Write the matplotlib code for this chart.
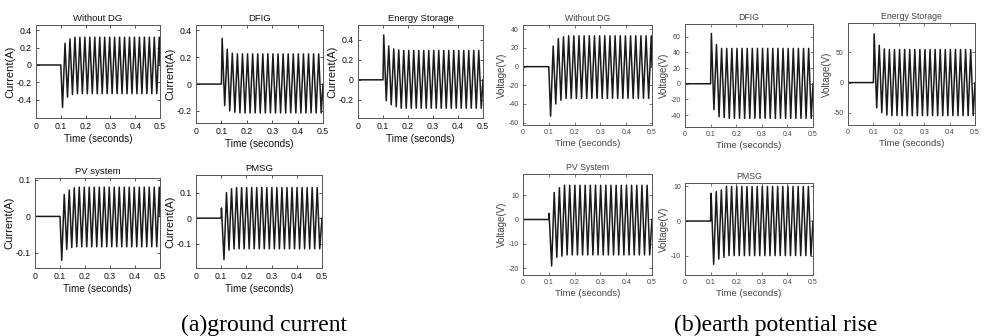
import numpy as np
from matplotlib import pyplot as plt
from matplotlib.ticker import FormatStrFormatter

plt.rcParams['font.family'] = ['Liberation Sans', 'DejaVu Sans']

# peak values: first swings after the fault, then steady +/- amplitude
titles_a = ["Without DG", "DFIG", "Energy Storage", "PV system", "PMSG"]
first_peak_time_a = [0.107, 0.103, 0.103, 0.107, 0.101]
early_peaks_a = [
    [-0.49, 0.25, -0.37, 0.30, -0.34, 0.32],
    [0.34, -0.16, 0.26, -0.20, 0.23, -0.21],
    [0.45, -0.21, 0.34, -0.25, 0.31, -0.27, 0.30],
    [-0.12, 0.06, -0.09, 0.072, -0.085, 0.078],
    [0.04, -0.162, 0.10, -0.125, 0.115, -0.12],
]
steady_a = [(0.32, -0.33), (0.225, -0.215), (0.295, -0.285), (0.08, -0.083), (0.12, -0.12)]
yticks_a = [[-0.4, -0.2, 0, 0.2, 0.4], [-0.2, 0, 0.2, 0.4], [-0.2, 0, 0.2, 0.4],
            [-0.1, 0, 0.1], [-0.1, 0, 0.1]]
ylims_a = [(-0.61, 0.46), (-0.29, 0.44), (-0.383, 0.55), (-0.141, 0.105), (-0.195, 0.169)]

titles_b = ["Without DG", "DFIG", "Energy Storage", "PV System", "PMSG"]
first_peak_time_b = [0.107, 0.103, 0.103, 0.101, 0.102]
early_peaks_b = [
    [-53, 22, -40, 30, -36, 32],
    [64, -33, 50, -42, 45, -43],
    [81, -42, 62, -50, 56, -54],
    [2.5, -19, 11, -15.5, 13, -15],
    [8, -12.5, 8.5, -11, 9, -10.5],
]
steady_b = [(33, -34), (45, -44), (55, -55), (14, -14.5), (10, -10)]
yticks_b = [[-60, -40, -20, 0, 20, 40], [-40, -20, 0, 20, 40, 60], [-50, 0, 50],
            [-20, -10, 0, 10], [-10, 0, 10]]
ylims_b = [(-62.5, 44.6), (-55, 76), (-70.5, 99), (-22.7, 18.6), (-15.6, 11)]

xticks = [0, 0.1, 0.2, 0.3, 0.4, 0.5]
fault_time = 0.1
end_time = 0.5
half_period = 0.01   # 50 Hz

# axes boxes in pixels: left, top, right, bottom
boxes_a = [(36, 25, 160, 118), (196, 25, 323, 123), (358, 25, 483, 118),
           (35, 178, 160, 268), (196, 175, 322, 268)]
boxes_b = [(523, 25, 652, 125), (685, 24, 813, 127), (848, 23, 975, 125),
           (523, 174, 652, 275), (685, 183, 813, 275)]

W, H = 984, 336
fig = plt.figure(figsize=(W / 100, H / 100), dpi=100)


def waveform(t_first, early, steady):
    t = [0, fault_time]
    v = [0, 0]
    k = 0
    tk = t_first
    while tk < end_time:
        if k < len(early):
            val = early[k]
        else:
            # keep alternating sign after the early swings
            val = steady[0] if (early[-1] < 0) == ((k - len(early)) % 2 == 0) else steady[1]
        t.append(tk)
        v.append(val)
        k += 1
        tk = t_first + k * half_period
    t.append(end_time)
    v.append(0)
    return t, v


def make_axes(box, title, ylabel, t, v, yticks, ylim, txt, sizes):
    l, tp, r, b = box
    ax = fig.add_axes([l / W, 1 - b / H, (r - l) / W, (b - tp) / H])
    ax.plot(t, v, color='#1a1a1a', lw=1.1)
    ax.set_xlim(0, 0.5)
    ax.set_ylim(*ylim)
    ax.set_xticks(xticks)
    ax.set_yticks(yticks)
    ax.xaxis.set_major_formatter(FormatStrFormatter('%g'))
    ax.yaxis.set_major_formatter(FormatStrFormatter('%g'))
    ax.tick_params(direction='in', top=True, right=True, length=2, width=0.5,
                   labelsize=sizes[0], colors=txt, pad=3)
    for s in ax.spines.values():
        s.set_linewidth(0.7)
        s.set_color('#555555')
    ax.set_title(title, fontsize=sizes[1], color=txt, pad=3)
    ax.set_ylabel(ylabel, fontsize=sizes[2], color=txt, labelpad=1)
    ax.set_xlabel("Time (seconds)", fontsize=sizes[3], color=txt, labelpad=2)
    return ax


for i in range(5):
    t, v = waveform(first_peak_time_a[i], early_peaks_a[i], steady_a[i])
    make_axes(boxes_a[i], titles_a[i], "Current(A)", t, v, yticks_a[i], ylims_a[i],
              '#111111', (6.3, 6.8, 8, 7.2))

for i in range(5):
    t, v = waveform(first_peak_time_b[i], early_peaks_b[i], steady_b[i])
    make_axes(boxes_b[i], titles_b[i], "Voltage(V)", t, v, yticks_b[i], ylims_b[i],
              '#444444', (5, 6.3, 7, 6.8))

fig.text(264 / W, 1 - 331 / H, "(a)ground current", family='Liberation Serif',
         fontsize=17, ha='center', va='baseline')
fig.text(776 / W, 1 - 331 / H, "(b)earth potential rise", family='Liberation Serif',
         fontsize=17, ha='center', va='baseline')

plt.savefig("out.png", dpi=100)
